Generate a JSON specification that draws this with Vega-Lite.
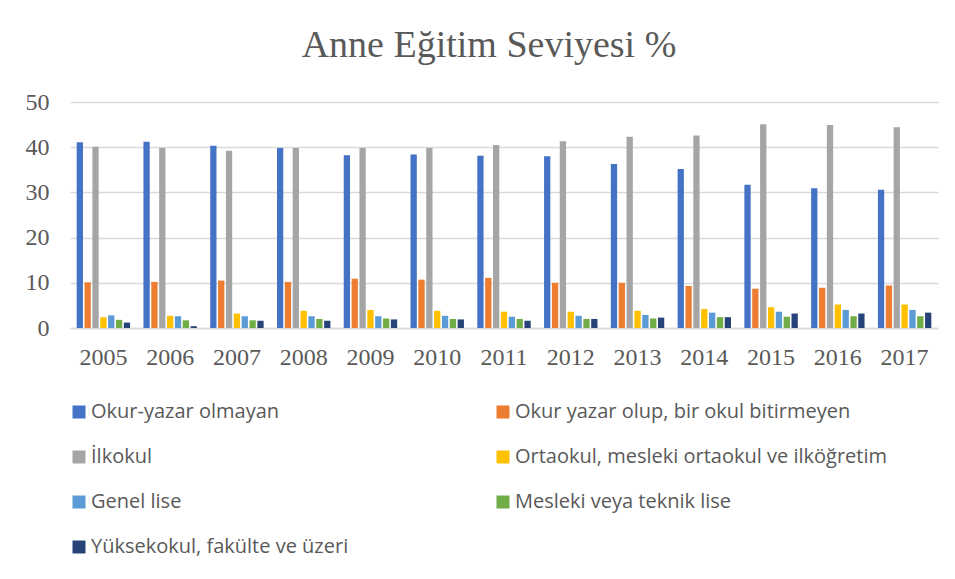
{
  "$schema": "https://vega.github.io/schema/vega-lite/v6.json",
  "width": 868,
  "height": 226,
  "autosize": {"type": "none"},
  "padding": {"left": 70, "top": 102, "right": 17, "bottom": 251},
  "background": "white",
  "title": {
    "text": "Anne Eğitim Seviyesi %",
    "font": "Liberation Serif",
    "fontSize": 38,
    "fontWeight": "normal",
    "color": "#595959",
    "anchor": "middle",
    "dx": -15,
    "offset": 25
  },
  "data": {
    "values": [
      {"year": "2005", "s": "Okur-yazar olmayan", "v": 41.1},
      {"year": "2005", "s": "Okur yazar olup, bir okul bitirmeyen", "v": 10.1},
      {"year": "2005", "s": "İlkokul", "v": 40.1},
      {"year": "2005", "s": "Ortaokul, mesleki ortaokul ve ilköğretim", "v": 2.4},
      {"year": "2005", "s": "Genel lise", "v": 2.8},
      {"year": "2005", "s": "Mesleki veya teknik lise", "v": 1.8},
      {"year": "2005", "s": "Yüksekokul, fakülte ve üzeri", "v": 1.2},
      {"year": "2006", "s": "Okur-yazar olmayan", "v": 41.2},
      {"year": "2006", "s": "Okur yazar olup, bir okul bitirmeyen", "v": 10.2},
      {"year": "2006", "s": "İlkokul", "v": 39.8},
      {"year": "2006", "s": "Ortaokul, mesleki ortaokul ve ilköğretim", "v": 2.7},
      {"year": "2006", "s": "Genel lise", "v": 2.6},
      {"year": "2006", "s": "Mesleki veya teknik lise", "v": 1.7},
      {"year": "2006", "s": "Yüksekokul, fakülte ve üzeri", "v": 0.4},
      {"year": "2007", "s": "Okur-yazar olmayan", "v": 40.3},
      {"year": "2007", "s": "Okur yazar olup, bir okul bitirmeyen", "v": 10.5},
      {"year": "2007", "s": "İlkokul", "v": 39.2},
      {"year": "2007", "s": "Ortaokul, mesleki ortaokul ve ilköğretim", "v": 3.2},
      {"year": "2007", "s": "Genel lise", "v": 2.6},
      {"year": "2007", "s": "Mesleki veya teknik lise", "v": 1.7},
      {"year": "2007", "s": "Yüksekokul, fakülte ve üzeri", "v": 1.6},
      {"year": "2008", "s": "Okur-yazar olmayan", "v": 39.8},
      {"year": "2008", "s": "Okur yazar olup, bir okul bitirmeyen", "v": 10.2},
      {"year": "2008", "s": "İlkokul", "v": 39.8},
      {"year": "2008", "s": "Ortaokul, mesleki ortaokul ve ilköğretim", "v": 3.8},
      {"year": "2008", "s": "Genel lise", "v": 2.6},
      {"year": "2008", "s": "Mesleki veya teknik lise", "v": 2.0},
      {"year": "2008", "s": "Yüksekokul, fakülte ve üzeri", "v": 1.6},
      {"year": "2009", "s": "Okur-yazar olmayan", "v": 38.2},
      {"year": "2009", "s": "Okur yazar olup, bir okul bitirmeyen", "v": 10.9},
      {"year": "2009", "s": "İlkokul", "v": 39.8},
      {"year": "2009", "s": "Ortaokul, mesleki ortaokul ve ilköğretim", "v": 4.0},
      {"year": "2009", "s": "Genel lise", "v": 2.6},
      {"year": "2009", "s": "Mesleki veya teknik lise", "v": 2.1},
      {"year": "2009", "s": "Yüksekokul, fakülte ve üzeri", "v": 1.9},
      {"year": "2010", "s": "Okur-yazar olmayan", "v": 38.4},
      {"year": "2010", "s": "Okur yazar olup, bir okul bitirmeyen", "v": 10.7},
      {"year": "2010", "s": "İlkokul", "v": 39.8},
      {"year": "2010", "s": "Ortaokul, mesleki ortaokul ve ilköğretim", "v": 3.8},
      {"year": "2010", "s": "Genel lise", "v": 2.7},
      {"year": "2010", "s": "Mesleki veya teknik lise", "v": 2.0},
      {"year": "2010", "s": "Yüksekokul, fakülte ve üzeri", "v": 1.9},
      {"year": "2011", "s": "Okur-yazar olmayan", "v": 38.1},
      {"year": "2011", "s": "Okur yazar olup, bir okul bitirmeyen", "v": 11.1},
      {"year": "2011", "s": "İlkokul", "v": 40.5},
      {"year": "2011", "s": "Ortaokul, mesleki ortaokul ve ilköğretim", "v": 3.6},
      {"year": "2011", "s": "Genel lise", "v": 2.5},
      {"year": "2011", "s": "Mesleki veya teknik lise", "v": 2.0},
      {"year": "2011", "s": "Yüksekokul, fakülte ve üzeri", "v": 1.6},
      {"year": "2012", "s": "Okur-yazar olmayan", "v": 38.0},
      {"year": "2012", "s": "Okur yazar olup, bir okul bitirmeyen", "v": 10.0},
      {"year": "2012", "s": "İlkokul", "v": 41.3},
      {"year": "2012", "s": "Ortaokul, mesleki ortaokul ve ilköğretim", "v": 3.6},
      {"year": "2012", "s": "Genel lise", "v": 2.7},
      {"year": "2012", "s": "Mesleki veya teknik lise", "v": 2.0},
      {"year": "2012", "s": "Yüksekokul, fakülte ve üzeri", "v": 2.0},
      {"year": "2013", "s": "Okur-yazar olmayan", "v": 36.3},
      {"year": "2013", "s": "Okur yazar olup, bir okul bitirmeyen", "v": 10.0},
      {"year": "2013", "s": "İlkokul", "v": 42.3},
      {"year": "2013", "s": "Ortaokul, mesleki ortaokul ve ilköğretim", "v": 3.8},
      {"year": "2013", "s": "Genel lise", "v": 2.9},
      {"year": "2013", "s": "Mesleki veya teknik lise", "v": 2.1},
      {"year": "2013", "s": "Yüksekokul, fakülte ve üzeri", "v": 2.3},
      {"year": "2014", "s": "Okur-yazar olmayan", "v": 35.2},
      {"year": "2014", "s": "Okur yazar olup, bir okul bitirmeyen", "v": 9.3},
      {"year": "2014", "s": "İlkokul", "v": 42.6},
      {"year": "2014", "s": "Ortaokul, mesleki ortaokul ve ilköğretim", "v": 4.2},
      {"year": "2014", "s": "Genel lise", "v": 3.4},
      {"year": "2014", "s": "Mesleki veya teknik lise", "v": 2.4},
      {"year": "2014", "s": "Yüksekokul, fakülte ve üzeri", "v": 2.4},
      {"year": "2015", "s": "Okur-yazar olmayan", "v": 31.7},
      {"year": "2015", "s": "Okur yazar olup, bir okul bitirmeyen", "v": 8.7},
      {"year": "2015", "s": "İlkokul", "v": 45.1},
      {"year": "2015", "s": "Ortaokul, mesleki ortaokul ve ilköğretim", "v": 4.6},
      {"year": "2015", "s": "Genel lise", "v": 3.6},
      {"year": "2015", "s": "Mesleki veya teknik lise", "v": 2.5},
      {"year": "2015", "s": "Yüksekokul, fakülte ve üzeri", "v": 3.2},
      {"year": "2016", "s": "Okur-yazar olmayan", "v": 30.9},
      {"year": "2016", "s": "Okur yazar olup, bir okul bitirmeyen", "v": 8.9},
      {"year": "2016", "s": "İlkokul", "v": 44.9},
      {"year": "2016", "s": "Ortaokul, mesleki ortaokul ve ilköğretim", "v": 5.2},
      {"year": "2016", "s": "Genel lise", "v": 4.0},
      {"year": "2016", "s": "Mesleki veya teknik lise", "v": 2.6},
      {"year": "2016", "s": "Yüksekokul, fakülte ve üzeri", "v": 3.2},
      {"year": "2017", "s": "Okur-yazar olmayan", "v": 30.6},
      {"year": "2017", "s": "Okur yazar olup, bir okul bitirmeyen", "v": 9.4},
      {"year": "2017", "s": "İlkokul", "v": 44.4},
      {"year": "2017", "s": "Ortaokul, mesleki ortaokul ve ilköğretim", "v": 5.2},
      {"year": "2017", "s": "Genel lise", "v": 4.0},
      {"year": "2017", "s": "Mesleki veya teknik lise", "v": 2.6},
      {"year": "2017", "s": "Yüksekokul, fakülte ve üzeri", "v": 3.4}
    ]
  },
  "mark": {"type": "bar"},
  "encoding": {
    "x": {
      "field": "year",
      "type": "nominal",
      "scale": {"paddingInner": 0.2, "paddingOuter": 0.1},
      "axis": {
        "title": null,
        "labelAngle": 0,
        "labelFont": "Liberation Serif",
        "labelFontSize": 24,
        "labelColor": "#595959",
        "labelPadding": 17,
        "ticks": false,
        "domain": true,
        "domainColor": "#d9d9d9",
        "domainWidth": 1.5,
        "grid": false
      }
    },
    "xOffset": {
      "field": "s",
      "type": "nominal",
      "sort": ["Okur-yazar olmayan", "Okur yazar olup, bir okul bitirmeyen", "İlkokul", "Ortaokul, mesleki ortaokul ve ilköğretim", "Genel lise", "Mesleki veya teknik lise", "Yüksekokul, fakülte ve üzeri"],
      "scale": {"paddingInner": 0.2, "paddingOuter": 0}
    },
    "y": {
      "field": "v",
      "type": "quantitative",
      "scale": {"domain": [0, 50], "nice": false},
      "axis": {
        "title": null,
        "values": [0, 10, 20, 30, 40, 50],
        "labelFont": "Liberation Serif",
        "labelFontSize": 24,
        "labelColor": "#595959",
        "labelPadding": 21,
        "ticks": false,
        "domain": false,
        "grid": true,
        "gridColor": "#d9d9d9",
        "gridWidth": 1.5
      }
    },
    "color": {
      "field": "s",
      "type": "nominal",
      "sort": ["Okur-yazar olmayan", "İlkokul", "Genel lise", "Yüksekokul, fakülte ve üzeri", "Okur yazar olup, bir okul bitirmeyen", "Ortaokul, mesleki ortaokul ve ilköğretim", "Mesleki veya teknik lise"],
      "scale": {"range": ["#4472C4", "#A5A5A5", "#5B9BD5", "#264478", "#ED7D31", "#FFC000", "#70AD47"]},
      "legend": {
        "title": null,
        "orient": "none",
        "legendX": -1,
        "legendY": 300,
        "columns": 2,
        "columnPadding": 144,
        "rowPadding": 25,
        "symbolType": "square",
        "symbolSize": 169,
        "symbolStrokeWidth": 0,
        "labelOffset": 2,
        "labelFont": "Open Sans",
        "labelFontSize": 20,
        "labelColor": "#595959",
        "labelLimit": 500,
        "padding": 0
      }
    }
  },
  "config": {
    "view": {"stroke": null}
  }
}
